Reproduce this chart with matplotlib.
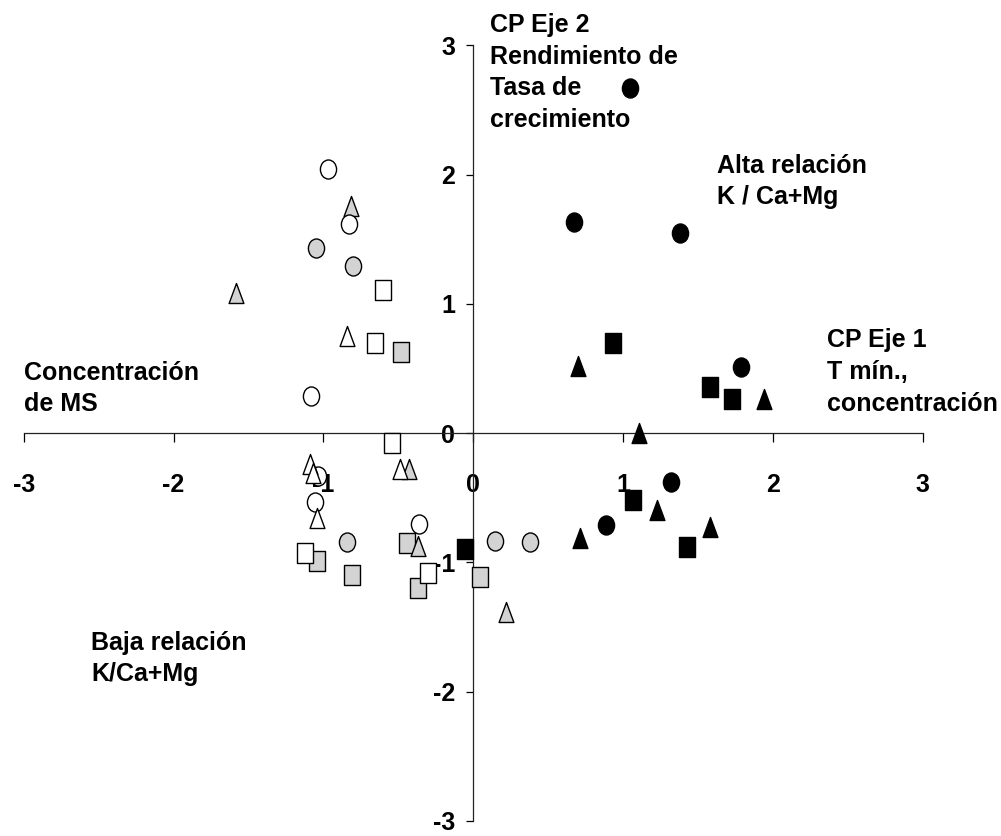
import numpy as np
import matplotlib
matplotlib.use("Agg")
import matplotlib.pyplot as plt
from matplotlib.path import Path
from matplotlib.transforms import Affine2D

plt.rcParams['font.family'] = ['Liberation Sans', 'DejaVu Sans']
plt.rcParams['font.weight'] = 'bold'

# Puntajes de los componentes principales
circ_negro_x = [1.05, 0.67, 1.38, 1.79, 1.32, 0.885]
circ_negro_y = [2.67, 1.63, 1.55, 0.51, -0.38, -0.71]
cuad_negro_x = [0.93, 1.58, 1.73, 1.07, 1.43, -0.054]
cuad_negro_y = [0.70, 0.354, 0.266, -0.52, -0.88, -0.90]
tri_negro_x = [0.70, 1.94, 1.11, 1.23, 1.58, 0.71]
tri_negro_y = [0.52, 0.26, 0.0, -0.595, -0.73, -0.81]

circ_gris_x = [-1.05, -0.80, -0.84, 0.146, 0.38]
circ_gris_y = [1.43, 1.29, -0.84, -0.835, -0.84]
cuad_gris_x = [-0.48, -1.04, -0.81, -0.44, -0.37, 0.046]
cuad_gris_y = [0.63, -0.99, -1.10, -0.85, -1.20, -1.11]
tri_gris_x = [-0.815, -1.58, -0.43, -0.37, 0.22]
tri_gris_y = [1.76, 1.085, -0.28, -0.87, -1.38]

circ_blanco_x = [-0.97, -0.83, -1.08, -1.035, -1.055, -0.36]
circ_blanco_y = [2.04, 1.62, 0.285, -0.33, -0.53, -0.70]
cuad_blanco_x = [-0.60, -0.655, -0.543, -1.12, -0.30]
cuad_blanco_y = [1.105, 0.695, -0.075, -0.93, -1.08]
tri_blanco_x = [-0.84, -1.09, -1.07, -0.49, -1.044]
tri_blanco_y = [0.754, -0.24, -0.31, -0.28, -0.66]

ticks = [-3, -2, -1, 0, 1, 2, 3]

# marcadores un poco más altos que anchos, como en el original
m_circ = Path.unit_circle().transformed(Affine2D().scale(0.85, 1.0))
m_cuad = Path([(-0.4, -0.5), (0.4, -0.5), (0.4, 0.5), (-0.4, 0.5), (-0.4, -0.5)], closed=True)
m_tri = Path([(0, 0.5), (-0.37, -0.5), (0.37, -0.5), (0, 0.5)], closed=True)

gris = '#d3d3d3'

fig = plt.figure(figsize=(10.01, 8.36), dpi=100)
ax = fig.add_axes([0.0237, 0.018, 0.898, 0.9279])

grupos = [
    (circ_negro_x, circ_negro_y, m_circ, 13.7, 'black'),
    (cuad_negro_x, cuad_negro_y, m_cuad, 15.0, 'black'),
    (tri_negro_x, tri_negro_y, m_tri, 14.4, 'black'),
    (circ_gris_x, circ_gris_y, m_circ, 13.7, gris),
    (cuad_gris_x, cuad_gris_y, m_cuad, 15.0, gris),
    (tri_gris_x, tri_gris_y, m_tri, 14.4, gris),
    (circ_blanco_x, circ_blanco_y, m_circ, 13.7, 'white'),
    (cuad_blanco_x, cuad_blanco_y, m_cuad, 15.0, 'white'),
    (tri_blanco_x, tri_blanco_y, m_tri, 14.4, 'white'),
]
for gx, gy, mk, ms, fc in grupos:
    ax.plot(gx, gy, linestyle='none', marker=mk, markersize=ms,
            markerfacecolor=fc, markeredgecolor='black', markeredgewidth=1.0,
            zorder=3, clip_on=False)

ax.set_xlim(-3, 3)
ax.set_ylim(-3, 3)
ax.spines['left'].set_position(('data', 0))
ax.spines['bottom'].set_position(('data', 0))
ax.spines['top'].set_visible(False)
ax.spines['right'].set_visible(False)
for s in ['left', 'bottom']:
    ax.spines[s].set_linewidth(0.9)
    ax.spines[s].set_color('#222222')

ax.set_xticks(ticks)
ax.set_yticks(ticks)
ax.set_xticklabels([str(t) for t in ticks])
ax.set_yticklabels([str(t) for t in ticks])
ax.tick_params(axis='x', direction='out', length=6.5, width=0.9, pad=22, labelsize=18)
ax.tick_params(axis='y', direction='out', length=5, width=0.9, pad=8, labelsize=18)

txt = dict(fontsize=18, fontweight='bold', va='top', ha='left', linespacing=1.4, clip_on=False)
ax.text(0.11, 3.25, 'CP Eje 2\nRendimiento de\nTasa de\ncrecimiento', **txt)
ax.text(1.63, 2.16, 'Alta relación\nK / Ca+Mg', **txt)
ax.text(2.36, 0.81, 'CP Eje 1\nT mín.,\nconcentración', **txt)
ax.text(-3.0, 0.56, 'Concentración\nde MS', **txt)
ax.text(-2.55, -1.53, 'Baja relación\nK/Ca+Mg', **txt)

plt.savefig('out.png', dpi=100)
